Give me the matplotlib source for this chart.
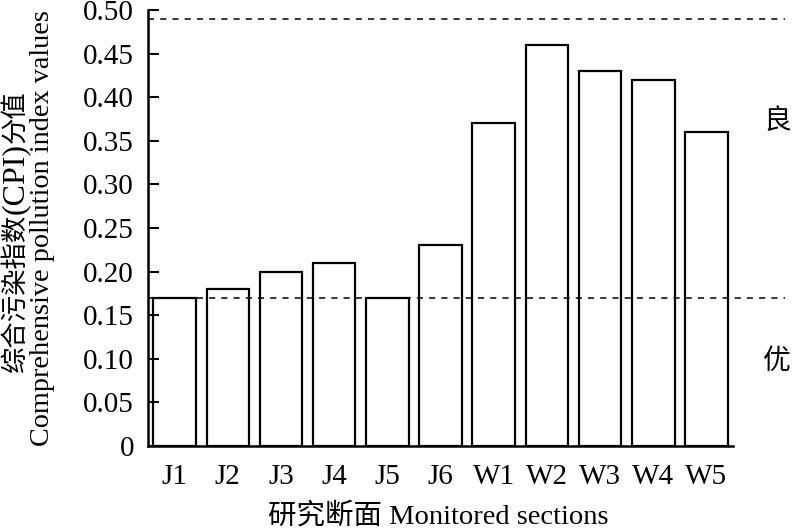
import numpy as np
import matplotlib
matplotlib.use("Agg")
import matplotlib.pyplot as plt

plt.rcParams['font.family'] = ['Liberation Serif', 'Noto Sans CJK SC']

sections = ['J1', 'J2', 'J3', 'J4', 'J5', 'J6', 'W1', 'W2', 'W3', 'W4', 'W5']
cpi = [0.17, 0.18, 0.20, 0.21, 0.17, 0.23, 0.37, 0.46, 0.43, 0.42, 0.36]
thresholds = [0.17, 0.49]
grades = ['良', '优']
ylabel_cn = ['综合污染指数', '(CPI)', '分值']
ylabel_en = 'Comprehensive pollution index values'
xlabel = '研究断面 Monitored sections'

fig = plt.figure(figsize=(8, 5.32), dpi=100)
ax = fig.add_axes([148/800, 1 - 446/532, 585/800, 436/532])

x = np.arange(len(sections))
ax.bar(x, cpi, width=0.8, color='white', edgecolor='black', linewidth=1.6)

for t in thresholds:
    ax.axhline(t, xmin=0, xmax=(785-148)/585, color='black', linestyle=(0, (4, 4)), linewidth=1.1, clip_on=False)

ax.set_xlim(-0.5, len(sections) - 0.5)
ax.set_ylim(0, 0.5)
ax.set_yticks(np.arange(0, 0.51, 0.05))
ax.set_yticklabels(['0'] + ['%.2f' % v for v in np.arange(0.05, 0.51, 0.05)])
ax.set_xticks(x)
ax.set_xticklabels(sections)
ax.tick_params(axis='y', direction='in', length=8, width=1.5, labelsize=21, pad=10)
ax.tick_params(axis='x', length=0, labelsize=21, pad=13)

for s in ['top', 'right']:
    ax.spines[s].set_visible(False)
for s in ['left', 'bottom']:
    ax.spines[s].set_linewidth(1.8)

ax.text(1.075, 0.745, grades[0], transform=ax.transAxes, fontsize=20, family=['Noto Sans CJK SC'], ha='center', va='center')
ax.text(1.075, 0.195, grades[1], transform=ax.transAxes, fontsize=20, family=['Noto Sans CJK SC'], ha='center', va='center')

# y label, Chinese line built from pieces so (CPI) can be set a bit larger
t1 = fig.text(15/800, 1 - 372/532, ylabel_cn[0], rotation=90, fontsize=19, ha='center', va='bottom',
              family=['Noto Sans CJK SC'])
t2 = ax.annotate(ylabel_cn[1], xy=(0.5, 1), xycoords=t1, rotation=90, fontsize=23, ha='center', va='bottom',
                 annotation_clip=False)
ax.annotate(ylabel_cn[2], xy=(0.5, 1), xycoords=t2, rotation=90, fontsize=19, ha='center', va='bottom',
            family=['Noto Sans CJK SC'], annotation_clip=False)
fig.text(43/800, 1 - 446/532, ylabel_en, rotation=90, fontsize=20.3, ha='center', va='bottom')
fig.text(438/800, 1 - 516/532, xlabel, fontsize=20.5, ha='center', va='center',
         family=['Liberation Serif', 'Noto Sans CJK SC'])

fig.savefig('out.png', dpi=100)
